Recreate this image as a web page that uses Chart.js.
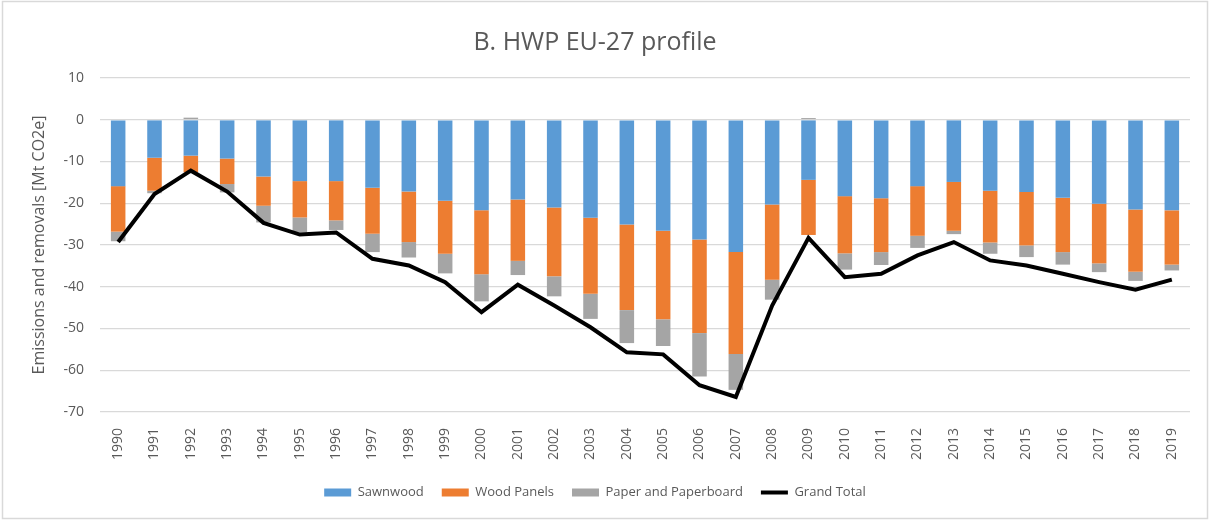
<!DOCTYPE html>
<html>
<head>
<meta charset="utf-8">
<script src="https://cdn.jsdelivr.net/npm/chart.js@4"></script>
<style>
  html, body { margin: 0; padding: 0; background: #fff; }
  #wrap { position: relative; width: 1211px; height: 521px; }
</style>
</head>
<body>
<div id="wrap"><canvas id="hwp-chart"></canvas></div>
<script>
// HWP EU-27 profile, values in Mt CO2e
const years = ['1990', '1991', '1992', '1993', '1994', '1995', '1996', '1997', '1998', '1999',
    '2000', '2001', '2002', '2003', '2004', '2005', '2006', '2007', '2008', '2009',
    '2010', '2011', '2012', '2013', '2014', '2015', '2016', '2017', '2018', '2019'];

const sawnwood = [-15.9, -9.1, -8.6, -9.3, -13.6, -14.7, -14.7, -16.3, -17.2, -19.4,
    -21.7, -19.1, -21.0, -23.5, -25.1, -26.6, -28.7, -31.7, -20.3, -14.4,
    -18.3, -18.8, -15.9, -14.9, -17.0, -17.3, -18.7, -20.1, -21.5, -21.7];

const woodPanels = [-10.9, -7.9, -4.0, -6.1, -7.0, -8.7, -9.4, -11.0, -12.1, -12.7,
    -15.3, -14.7, -16.5, -18.2, -20.5, -21.2, -22.4, -24.4, -18.0, -13.2,
    -13.7, -12.9, -11.9, -11.7, -12.4, -12.8, -13.0, -14.3, -14.9, -13.0];

const paper = [-2.3, -0.6, 0.5, -2.0, -4.0, -3.6, -2.3, -4.4, -3.7, -4.7,
    -6.5, -3.4, -4.8, -6.0, -7.9, -6.4, -10.4, -8.6, -4.8, 0.4,
    -3.9, -3.1, -2.9, -0.8, -2.7, -2.8, -3.0, -2.1, -2.2, -1.4];

const grandTotal = [-29.3, -17.8, -12.2, -17.2, -24.7, -27.5, -27.0, -33.3, -34.9, -38.9,
    -46.1, -39.5, -44.5, -49.7, -55.7, -56.2, -63.6, -66.4, -44.5, -28.3,
    -37.7, -36.9, -32.5, -29.3, -33.7, -34.9, -36.9, -38.9, -40.7, -38.3];

const yTicks = [10, 0, -10, -20, -30, -40, -50, -60, -70];

const textColor = '#595959';
const fontFamily = "'Open Sans', 'Liberation Sans', sans-serif";

// outer frame like the Excel chart border
const framePlugin = {
    id: 'frame',
    beforeDraw(chart) {
        const ctx = chart.ctx;
        ctx.save();
        ctx.fillStyle = '#ffffff';
        ctx.fillRect(0, 0, chart.width, chart.height);
        ctx.strokeStyle = '#d9d9d9';
        ctx.lineWidth = 1.5;
        ctx.strokeRect(2.5, 1.5, 1205, 517);
        ctx.restore();
    }
};

function barSet(label, data, color) {
    return {
        type: 'bar',
        label: label,
        data: data,
        backgroundColor: color,
        borderWidth: 0,
        pointStyle: 'rect',
        categoryPercentage: 0.8,
        barPercentage: 0.5,
        stack: 'hwp',
        order: 1
    };
}

const ctx = document.getElementById('hwp-chart').getContext('2d');

new Chart(ctx, {
    data: {
        labels: years,
        datasets: [
            barSet('Sawnwood', sawnwood, '#5b9bd5'),
            barSet('Wood Panels', woodPanels, '#ed7d31'),
            barSet('Paper and Paperboard', paper, '#a5a5a5'),
            {
                type: 'line',
                label: 'Grand Total',
                data: grandTotal,
                borderColor: '#000000',
                backgroundColor: '#000000',
                borderWidth: 4,
                pointRadius: 0,
                pointStyle: 'line',
                tension: 0,
                stack: 'total',
                order: 0
            }
        ]
    },
    options: {
        responsive: true,
        maintainAspectRatio: false,
        animation: false,
        layout: {
            padding: {
                top: 28,
                right: 21,
                bottom: 12,
                left: 0
            }
        },
        scales: {
            x: {
                stacked: true,
                grid: { display: false },
                border: { display: false },
                ticks: {
                    color: textColor,
                    font: { family: fontFamily, size: 14 },
                    minRotation: 90,
                    maxRotation: 90,
                    padding: 8
                }
            },
            y: {
                stacked: true,
                min: -70,
                max: 10,
                afterBuildTicks(scale) {
                    scale.ticks = yTicks.map(v => ({ value: v }));
                },
                afterFit(scale) {
                    scale.width = 100;
                },
                grid: {
                    color: '#d9d9d9',
                    lineWidth: 1.3,
                    drawTicks: false
                },
                border: { display: false },
                ticks: {
                    color: textColor,
                    font: { family: fontFamily, size: 14 },
                    padding: 16
                },
                title: {
                    display: true,
                    text: 'Emissions and removals [Mt CO2e]',
                    color: textColor,
                    font: { family: fontFamily, size: 16 },
                    padding: { top: 30, bottom: 4 }
                }
            }
        },
        plugins: {
            title: {
                display: true,
                text: 'B. HWP EU-27 profile',
                color: textColor,
                font: { family: fontFamily, size: 25, weight: 'normal' },
                padding: { top: 0, bottom: 20 }
            },
            legend: {
                display: true,
                position: 'bottom',
                labels: {
                    color: textColor,
                    font: { family: fontFamily, size: 13 },
                    usePointStyle: true,
                    pointStyleWidth: 27,
                    boxHeight: 8,
                    padding: 18,
                    sort: (a, b) => a.datasetIndex - b.datasetIndex
                }
            },
            tooltip: { enabled: false }
        }
    },
    plugins: [framePlugin]
});
</script>
</body>
</html>
